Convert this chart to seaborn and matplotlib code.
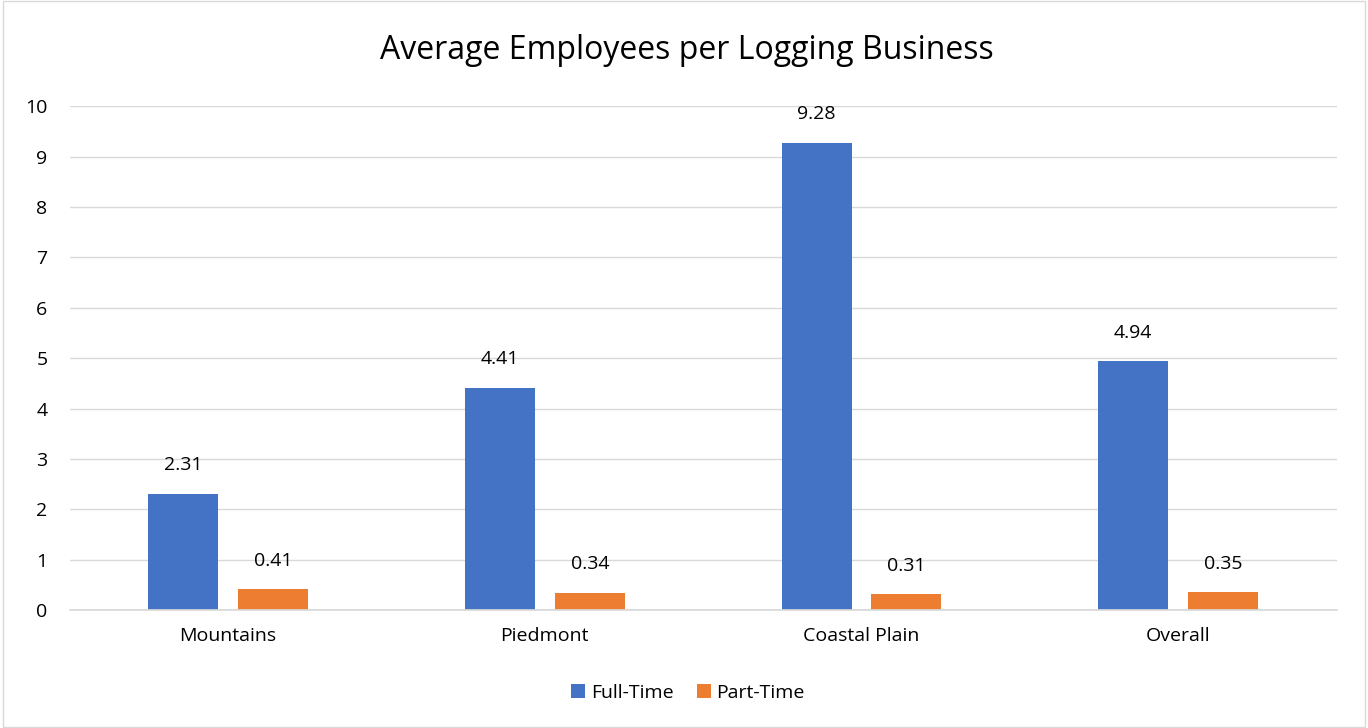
import pandas as pd
import matplotlib.pyplot as plt
import seaborn as sns

# --- Data ---
regions = ["Mountains", "Piedmont", "Coastal Plain", "Overall"]
full_time = [2.31, 4.41, 9.28, 4.94]
part_time = [0.41, 0.34, 0.31, 0.35]
series_names = ["Full-Time", "Part-Time"]
colors = ["#4472C4", "#ED7D31"]

df = pd.DataFrame({
    "Region": regions * 2,
    "Type": [series_names[0]] * len(regions) + [series_names[1]] * len(regions),
    "Employees": full_time + part_time,
})

sns.set_theme(style="white")
plt.rcParams["font.family"] = ["Open Sans", "DejaVu Sans"]
plt.rcParams["text.color"] = "black"

fig = plt.figure(figsize=(13.68, 7.28), dpi=100)
ax = fig.add_axes([0.051, 0.162, 0.926, 0.692])

sns.barplot(data=df, x="Region", y="Employees", hue="Type", palette=colors,
            width=0.568, gap=0.222, saturation=1, linewidth=0,
            ax=ax, legend=True)

ax.set_ylim(0, 10)
ax.set_xlim(-0.5, 3.5)
ax.set_yticks(range(0, 11))
ax.yaxis.grid(True, color="#D9D9D9", linewidth=1)
ax.set_axisbelow(True)
for side in ["top", "right", "left"]:
    ax.spines[side].set_visible(False)
ax.spines["bottom"].set_color("#D9D9D9")
ax.tick_params(axis="both", length=0, labelsize=14, colors="black")
ax.tick_params(axis="x", pad=12)
ax.tick_params(axis="y", pad=16)
ax.set_xlabel("")
ax.set_ylabel("")

# value labels
for container in ax.containers:
    ax.bar_label(container, fmt="%.2f", padding=14, fontsize=14, color="black")

# title centred on the whole figure
fig.text(0.502, 0.93, "Average Employees per Logging Business", fontsize=23,
         ha="center", va="center", color="black")

handles, labels = ax.get_legend_handles_labels()
ax.get_legend().remove()
fig.legend(handles, labels, loc="center", bbox_to_anchor=(0.503, 0.048),
           ncol=2, frameon=False, fontsize=14, handlelength=0.7,
           handleheight=0.7, columnspacing=1.2, handletextpad=0.3)

# outer border
fig.patches.append(plt.Rectangle((0.002, 0.002), 0.996, 0.996, transform=fig.transFigure,
                                 fill=False, edgecolor="#D9D9D9", linewidth=1))

fig.savefig("out.png", dpi=100)
